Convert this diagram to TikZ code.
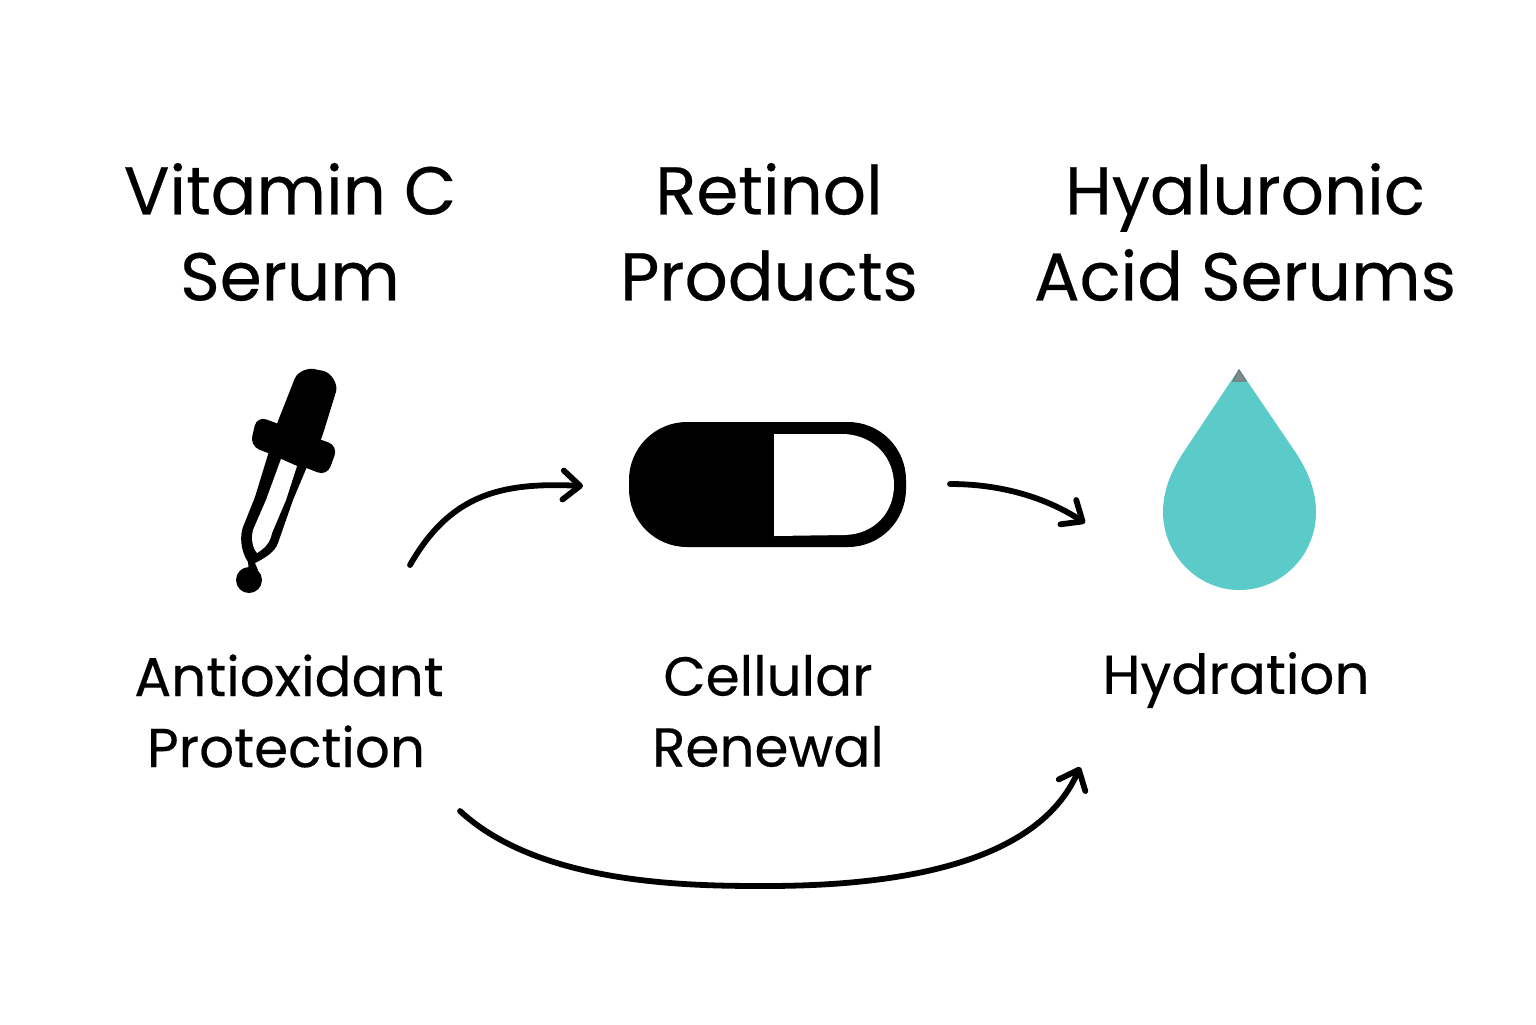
\documentclass[tikz,border=0pt]{standalone}
\usepackage{fontspec}
\setmainfont{Poppins}[FakeBold=0.35]
\usetikzlibrary{arrows.meta}
\definecolor{dropteal}{HTML}{5BCBC9}
\tikzset{
  title/.style={align=center,inner sep=0pt,font=\fontsize{33.8}{43}\selectfont},
  effect/.style={align=center,inner sep=0pt,font=\fontsize{27.4}{35.5}\selectfont},
  flow/.style={-{Straight Barb[length=8.5pt,width=14.5pt,line width=2.9pt,round]},line width=2.9pt,line cap=round,black},
}
\begin{document}
\begin{tikzpicture}[x=0.5pt,y=-0.5pt]
  \useasboundingbox[fill=white] (0,0) rectangle (1536,1024);

  \node[title] (vitc) at (290,232) {Vitamin C\\Serum};
  \node[title] (retinol) at (769,232) {Retinol\\Products};
  \node[title] (hyal) at (1245,232) {Hyaluronic\\Acid Serums};

  \node[effect] (antiox) at (289,711) {Antioxidant\\\hspace{-3pt}Protection};
  \node[effect] (cell) at (768,711) {Cellular\\Renewal};
  \node[effect] (hydra) at (1236,680) {Hydration};

  % dropper
  \fill[rounded corners=2pt] (270,445) -- (278,421) -- (293,383) .. controls (298,370) and (310,368) .. (318,370)
    .. controls (332,372) and (338,385) .. (335,395) -- (322,437) -- (312,458) -- cycle;
  \fill[rounded corners=5pt] (257,416) -- (338,446) -- (327,476) -- (250,446) -- cycle;
  \fill (270,448) -- (255,497) -- (243,527) .. controls (240,535) and (240,550) .. (248,562)
    -- (249,572) -- (258,570) -- (255,563) .. controls (265,558) and (275,552) .. (278,543) -- (293,500) -- (309,462) -- cycle;
  \fill[white] (281,459) -- (297,466) -- (286,500) -- (272,533) .. controls (270,543) and (265,548) .. (257,553)
    .. controls (252,547) and (251,538) .. (253,530) -- (266,500) -- cycle;
  \fill (249,580) circle (13);

  % capsule
  \fill[rounded corners=29pt] (629,422) rectangle (906,547);
  \fill[white] (774,434) -- (845,434) .. controls (875,436) and (894,458) .. (894,485)
    .. controls (894,512) and (875,534) .. (845,535) -- (774,536) -- cycle;

  % drop
  \fill[dropteal] (1239,369) -- (1183,453) .. controls (1170,473) and (1163,492) .. (1163,512)
    .. controls (1163,555) and (1198,590) .. (1239,590)
    .. controls (1282,590) and (1316,555) .. (1316,512)
    .. controls (1316,492) and (1309,473) .. (1296,453) -- cycle;
  \filldraw[fill=gray!85!dropteal,draw=gray!90!black,line width=0.5pt] (1239,370) -- (1233,381) -- (1246,381) -- cycle;

  % connectors
  \coordinate (a1) at (410,565);
  \coordinate (a2) at (583,486);
  \coordinate (b1) at (950,484);
  \coordinate (b2) at (1085,523);
  \coordinate (c1) at (460,811);
  \coordinate (c2) at (1080,767);

  \draw[flow] (a1) .. controls (450,495) and (500,482) .. (a2);
  \draw[flow] (b1) .. controls (1000,484) and (1045,497) .. (b2);
  \draw[flow] (c1) .. controls (540,885) and (690,886) .. (765,886)
    .. controls (880,886) and (1035,870) .. (c2);
\end{tikzpicture}
\end{document}
